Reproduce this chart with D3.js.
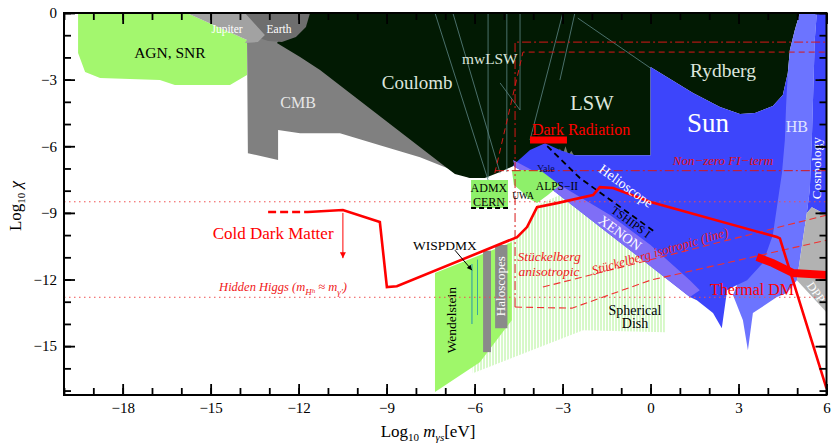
<!DOCTYPE html>
<html>
<head>
<meta charset="utf-8">
<script src="https://cdn.jsdelivr.net/npm/d3@7"></script>
<style>
  body { margin: 0; background: #fff; }
  svg { display: block; }
  text { font-family: "Liberation Serif", "DejaVu Serif", serif; }
</style>
</head>
<body>
<svg id="chart" width="831" height="446"></svg>
<script>
// axis ticks
const xMajor = [-18, -15, -12, -9, -6, -3, 0, 3, 6];
const yMajor = [0, -3, -6, -9, -12, -15];
const xMinor = d3.range(-20, 7);
const yMinor = d3.range(-17, 1);

// regions, as [log10 m, log10 chi]
const agnSnr = [[-19.52,0],[-19.52,-1.8],[-19.28,-2.66],[-18.77,-2.93],[-16.73,-3.02],[-16.22,-3.24],[-14.34,-3.24],[-13.76,-2.79],[-13.76,-1.22],[-15.81,0]];
const cmb = [[-13.76,-1.22],[-13.73,-6.31],[-12.70,-6.62],[-12.70,-5.27],[-11.95,-5.41],[-10.59,-5.41],[-9.23,-5.95],[-7.86,-6.49],[-6.94,-6.98],[-6.16,-7.43],[-5.82,-4.82],[-11.95,0],[-13.76,0]];
const jupiter = [[-15.81,0],[-13.83,0],[-13.15,-0.99],[-13.39,-1.31],[-13.83,-1.35],[-13.76,-1.22]];
const earth = [[-14.24,0],[-11.61,0],[-11.75,-0.63],[-12.09,-1.08],[-12.57,-1.31],[-13.04,-1.26],[-13.39,-1.1]];
const coulombLswRydberg = [[-11.68,0],[5.09,0],[4.92,-0.77],[4.75,-1.67],[4.68,-2.70],[4.51,-3.69],[4.17,-4.19],[3.56,-4.50],[3.05,-4.55],[2.37,-4.23],[1.45,-3.60],[0,-2.43],[0,-6.40],[-2.58,-6.40],[-4.62,-6.85],[-5.13,-7.16],[-5.65,-7.43],[-6.16,-7.43],[-6.67,-7.25],[-6.94,-6.98],[-11.27,-2.57],[-11.95,-1.98],[-12.74,-1.35],[-12.2,-0.54]];
const hb = [[5.09,0],[5.67,0],[5.60,-1.2],[5.50,-5.72],[5.43,-7.97],[5.33,-9.01],[5.09,-11.13],[4.99,-12.03],[4.65,-12.61],[4.31,-12.79],[3.49,-13.51],[3.32,-15.18],[3.15,-13.83],[2.81,-12.70],[3.5,-10.5],[4.3,-6],[4.68,-2.70],[4.75,-1.67],[4.92,-0.77]];
const cosmology = [[5.67,0],[6,0],[6,-9.1],[5.5,-8.75],[5.33,-9.01],[5.43,-7.97],[5.50,-5.72],[5.60,-1.2]];
const dpp = [[5.33,-9.01],[5.5,-8.75],[6,-9.1],[6,-13.47],[4.99,-12.03],[5.09,-11.13]];
const sun = [[-4.69,-6.85],[-4.11,-6.17],[-3.60,-5.86],[-3.09,-6.17],[-2.58,-6.40],[0,-6.40],[0,-2.43],[1.45,-3.60],[2.37,-4.23],[3.05,-4.55],[3.56,-4.50],[4.17,-4.19],[4.51,-3.69],[4.68,-2.70],[4.62,-4.23],[4.58,-5.72],[4.48,-7.21],[4.31,-8.74],[4.17,-10.0],[3.83,-11.26],[3.29,-12.03],[2.81,-12.34],[2.61,-12.48],[2.43,-14.19],[2.13,-13.51],[1.58,-12.93],[1.34,-12.79],[0,-11.40],[-1.73,-9.62],[-3.70,-7.60],[-4.62,-6.94]];
const xenon = [[-4.69,-6.62],[-3.09,-7.75],[-1.38,-9.10],[0,-10.45],[1.34,-12.03],[1.68,-12.48],[1.34,-12.79],[0,-11.40],[-1.73,-9.62],[-3.70,-7.60],[-4.62,-6.94]];
const admx = [[-6.12,-7.52],[-4.86,-7.52],[-4.86,-8.78],[-6.12,-8.78]];
const alps = [[-4.73,-7.07],[-3.77,-7.07],[-3.09,-7.75],[-3.50,-8.20],[-3.87,-8.56],[-4.18,-8.33],[-4.45,-7.97],[-4.66,-7.75]];
const hatchArea = [[-4.96,-10.45],[-4.55,-10.09],[-4.21,-9.55],[-3.87,-8.65],[-3.09,-8.20],[-1.73,-7.88],[-0.36,-8.2],[0.49,-8.65],[0.49,-14.37],[-2.30,-14.28],[-6.06,-16.22],[-6.16,-12.93]];
const haloGreen = [[-7.35,-11.71],[-4.96,-10.45],[-4.73,-10.32],[-4.73,-13.83],[-5.82,-15.72],[-7.35,-17.07]];
const haloGray = [[[-5.71,-10.7],[-5.44,-10.7],[-5.44,-15.27],[-5.71,-15.27]], [[-5.30,-10.45],[-4.88,-10.45],[-4.88,-14.19],[-5.30,-14.19]]];
const lswResonance = [[-3.25,-6.55],[-3.09,-6.1],[-3.0,-6.4],[-2.9,-6.0],[-2.8,-6.4],[-2.7,-6.2],[-2.58,-6.5]];

// thin boundaries inside the dark region
const lswLines = [
  [[-7.35,0],[-5.54,-7.52]],
  [[-6.74,0],[-5.13,-7.21]],
  [[-5.54,0],[-5.54,-7.43]],
  [[-4.90,0],[-4.90,-7.16]],
  [[-4.45,0],[-4.45,-4.37]],
  [[-2.99,0],[-4.11,-5.72]],
  [[-5.13,-3.15],[-4.45,-4.37]],
  [[-2.58,0],[-3.09,-3.02]],
  [[-2.48,-0.23],[0,-2.48]]
];

// red curves and theory lines
const cdmLine = [[-11.68,-8.96],[-10.49,-8.87],[-9.23,-9.41],[-8.99,-12.34],[-8.65,-12.30],[-4.55,-10.09],[-4.21,-9.64],[-3.87,-8.74],[-3.19,-8.56],[-1.96,-8.20],[-1.73,-7.84],[-1.28,-7.88],[0,-8.51],[4.31,-10.09],[4.41,-10.15],[5.88,-16.40],[6,-16.9]];
const cdmDashed = [[-13.04,-8.96],[-11.68,-8.96]];
const thermalDM = [[3.63,-10.99],[4.17,-11.26],[4.86,-11.71],[6,-11.80]];
const darkRadiation = [[-4.11,-5.72],[-2.85,-5.72]];
const hiddenHiggs = [-8.5, -12.8];
const fiTermBox = [[-4.62,-13.24],[-4.62,-1.31],[6,-1.31]];
const fiTermLow = [[-5.31,-7.1],[6,-7.1]];
const stueckTop = [[-5.31,-7.21],[-4.35,-1.76],[6,-1.76]];
const stueckAniso = [[-4.62,-13.24],[-2.68,-13.29],[0,-12.03],[6,-10.23]];
const stueckIso = [[-3.67,-12.34],[6,-9.10]];
const tships = [[-4.01,-5.36],[-2.41,-7.43],[0.15,-9.86]];
const admxDash = [[-6.12,-8.78],[-4.86,-8.78]];

const svg = d3.select('#chart');
const x = d3.scaleLinear().domain([-20, 6]).range([64, 826.5]);
const y = d3.scaleLinear().domain([0, -17.2]).range([13, 395]);

const closed = d3.line().x(d => x(d[0])).y(d => y(d[1])).curve(d3.curveLinearClosed);
const open = d3.line().x(d => x(d[0])).y(d => y(d[1]));

const defs = svg.append('defs');
defs.append('clipPath').attr('id', 'plot-clip')
  .append('rect').attr('x', 64).attr('y', 13).attr('width', 762.5).attr('height', 382);
const pat = defs.append('pattern').attr('id', 'hatch')
  .attr('patternUnits', 'userSpaceOnUse').attr('width', 3).attr('height', 10);
pat.append('line').attr('x1', 1).attr('x2', 1).attr('y1', 0).attr('y2', 10)
  .attr('stroke', '#a6f086').attr('stroke-width', 0.9);

const plot = svg.append('g').attr('clip-path', 'url(#plot-clip)');

function poly(data, fill) {
  return plot.append('path').attr('d', closed(data)).attr('fill', fill);
}
function curve(data, color, width, dash) {
  return plot.append('path').attr('d', open(data)).attr('fill', 'none')
    .attr('stroke', color).attr('stroke-width', width)
    .attr('stroke-dasharray', dash || null);
}

// haloscopes and dish
poly(hatchArea, 'url(#hatch)');
poly(haloGreen, '#9ff76a');
haloGray.forEach(d => poly(d, '#8a8a8a'));
curve([[-6.09,-11.3],[-6.09,-14.0]], '#3aa8a0', 1.2);
curve([[-5.9,-11.1],[-5.9,-13.6]], '#3aa8a0', 1);

// astrophysics and lab bounds
poly(cmb, '#808080');
poly(agnSnr, '#a3f76e');
poly(coulombLswRydberg, '#021a03');
lswLines.forEach(d => curve(d, '#5d8585', 0.8));
poly(lswResonance, '#707870');
poly(earth, '#6e6e6e');
poly(jupiter, '#a2a2a2');
poly(hb, '#6c74ff');
poly(cosmology, '#3d45fb');
poly(dpp, '#b2b2b2');
poly(sun, '#3d45fb');
poly(xenon, '#7f6ef6');
poly(admx, '#8ef06a');
poly(alps, '#8ef06a');

// theory lines
hiddenHiggs.forEach(v => curve([[-20, v], [6, v]], '#f05050', 1, '1.5,3.5'));
curve(fiTermBox, '#d81818', 1, '9,3,2,3');
curve(fiTermLow, '#d81818', 1, '9,3,2,3');
curve(stueckTop, '#d81818', 1, '6,4');
curve(stueckAniso, '#f03030', 1.1, '7,4');
curve(stueckIso, '#f03030', 1.1, '7,4');

// black dashed experiments
curve(tships, '#000', 1.8, '6,4');
curve(admxDash, '#000', 1.8, '5,3');

// red curves
curve(cdmDashed, '#f00', 2.6, '8,4');
curve(cdmLine, '#f00', 2.6);
curve(thermalDM, '#f00', 8);
curve(darkRadiation, '#f00', 7);

// arrows
defs.append('marker').attr('id', 'red-arrow').attr('viewBox', '0 0 10 10')
  .attr('refX', 10).attr('refY', 5).attr('markerWidth', 6).attr('markerHeight', 8)
  .attr('orient', 'auto').attr('markerUnits', 'userSpaceOnUse')
  .append('path').attr('d', 'M0,0 L10,5 L0,10 z').attr('fill', '#f00');
defs.append('marker').attr('id', 'black-arrow').attr('viewBox', '0 0 10 10')
  .attr('refX', 10).attr('refY', 5).attr('markerWidth', 7).attr('markerHeight', 5)
  .attr('orient', 'auto').attr('markerUnits', 'userSpaceOnUse')
  .append('path').attr('d', 'M0,0 L10,5 L0,10 z').attr('fill', '#000');
curve([[-10.49,-9.0],[-10.49,-11.04]], '#f00', 1).attr('marker-end', 'url(#red-arrow)');
curve([[-6.67,-10.68],[-6.09,-11.58]], '#000', 1).attr('marker-end', 'url(#black-arrow)');

// labels
function label(txt, lx, ly, o) {
  o = o || {};
  const t = plot.append('text')
    .attr('transform', `translate(${x(lx)},${y(ly)}) rotate(${o.rot || 0})`)
    .attr('text-anchor', o.anchor || 'middle')
    .attr('dominant-baseline', 'central')
    .attr('font-size', o.size || 14)
    .attr('fill', o.fill || '#000')
    .attr('font-style', o.italic ? 'italic' : null)
    .text(txt);
  return t;
}
label('AGN, SNR', -16.39, -1.76, {size: 15.5});
label('Jupiter', -14.44, -0.72, {size: 11.5, fill: '#fff'});
label('Earth', -12.67, -0.72, {size: 11.5, fill: '#fff'});
label('CMB', -12.02, -4.01, {size: 16, fill: '#e6e6e6'});
label('Coulomb', -7.96, -3.11, {size: 19, fill: '#dde6dd'});
label('mwLSW', -5.48, -2.07, {size: 15.4, fill: '#dde6dd'});
label('LSW', -2.0, -4.05, {size: 20.5, fill: '#dde6dd'});
label('Rydberg', 2.47, -2.61, {size: 19.5, fill: '#dde6dd'});
label('Sun', 1.96, -4.95, {size: 27, fill: '#fff'});
label('HB', 4.99, -5.09, {size: 16, fill: '#e0e4ff'});
label('Cosmology', 5.67, -6.98, {size: 13.5, fill: '#fff', rot: -90});
label('Dark Radiation', -2.37, -5.23, {size: 16, fill: '#f00'});
label('Non\u2212zero FI\u2212term', 2.47, -6.62, {size: 13, fill: '#e01010', italic: true});
label('Helioscope', -0.84, -7.79, {size: 14, fill: '#fff', rot: 36});
label('XENON', -1.04, -9.91, {size: 14, fill: '#fff', rot: 36});
label('TSHIPS I', -0.67, -9.41, {size: 11.5, rot: 36});
label('Yale', -3.57, -6.98, {size: 10, fill: '#0a0a50'});
label('ALPS\u2212II', -3.19, -7.79, {size: 11.5});
label('UWA', -4.35, -8.24, {size: 9.5});
label('ADMX', -5.51, -7.88, {size: 12});
label('CERN', -5.51, -8.51, {size: 12});
label('Cold Dark Matter', -12.87, -9.91, {size: 17, fill: '#f00'});
label('WISPDMX', -7.01, -10.45, {size: 13.5});
label('St\u00fcckelberg', -3.46, -10.95, {size: 13.5, fill: '#f02020', italic: true});
label('anisotropic', -3.46, -11.62, {size: 13.5, fill: '#f02020', italic: true});
label('St\u00fcckelberg isotropic (line)', 0.32, -10.72, {size: 13, fill: '#f02020', italic: true, rot: -16});
label('Wendelstein', -6.77, -13.83, {size: 13.5, rot: -90});
label('Haloscopes', -5.13, -12.30, {size: 13, fill: '#fff', rot: -90});
label('Spherical', -0.53, -13.38, {size: 14});
label('Dish', -0.53, -14.0, {size: 14});
label('Thermal DM', 3.46, -12.43, {size: 16, fill: '#f00'});
label('DPP', 5.64, -12.57, {size: 12, fill: '#fff', rot: 55});

const hh = label('', -12.53, -12.34, {size: 12.5, fill: '#f02020', italic: true});
hh.append('tspan').text('Hidden Higgs (m');
hh.append('tspan').attr('baseline-shift', 'sub').attr('font-size', 9).text('H');
hh.append('tspan').attr('baseline-shift', 'sub').attr('font-size', 7).text('h');
hh.append('tspan').text(' \u2248 m');
hh.append('tspan').attr('baseline-shift', 'sub').attr('font-size', 9).text('\u03b3\u2032');
hh.append('tspan').text(')');

// axes and frame
const axes = svg.append('g');
function addAxis(gen, tr, vals, size, fmt) {
  const g = axes.append('g').attr('transform', tr)
    .call(gen.tickValues(vals).tickSizeInner(size).tickSizeOuter(0).tickPadding(7).tickFormat(fmt));
  g.select('.domain').remove();
  g.selectAll('line').attr('stroke', '#000').attr('stroke-width', 1.8);
  g.selectAll('text').attr('font-size', 15).attr('font-family', '"Liberation Serif", serif').attr('fill', '#000');
  return g;
}
const fmt = d3.format('d');
addAxis(d3.axisBottom(x), `translate(0,${y(-17.2)})`, xMinor, -7, '');
addAxis(d3.axisBottom(x), `translate(0,${y(-17.2)})`, xMajor, -11, fmt);
addAxis(d3.axisTop(x), `translate(0,${y(0)})`, xMinor, -7, '');
addAxis(d3.axisTop(x), `translate(0,${y(0)})`, xMajor, -11, '');
addAxis(d3.axisLeft(y), `translate(${x(-20)},0)`, yMinor, -7, '');
addAxis(d3.axisLeft(y), `translate(${x(-20)},0)`, yMajor, -11, fmt);
addAxis(d3.axisRight(y), `translate(${x(6)},0)`, yMinor, -7, '');
addAxis(d3.axisRight(y), `translate(${x(6)},0)`, yMajor, -11, '');

axes.append('rect').attr('x', x(-20)).attr('y', y(0))
  .attr('width', x(6) - x(-20)).attr('height', y(-17.2) - y(0))
  .attr('fill', 'none').attr('stroke', '#000').attr('stroke-width', 2);

// axis titles
const xt = axes.append('text').attr('x', 428).attr('y', 437)
  .attr('text-anchor', 'middle').attr('font-size', 17);
xt.append('tspan').text('Log');
xt.append('tspan').attr('dy', 4).attr('font-size', 11).text('10');
xt.append('tspan').attr('dy', -4).attr('font-style', 'italic').text(' m');
xt.append('tspan').attr('dy', 4).attr('font-size', 11).attr('font-style', 'italic').text('\u03b3s');
xt.append('tspan').attr('dy', -4).text('[eV]');

const yt = axes.append('text').attr('transform', 'translate(21,206) rotate(-90)')
  .attr('text-anchor', 'middle').attr('font-size', 17);
yt.append('tspan').text('Log');
yt.append('tspan').attr('dy', 4).attr('font-size', 11).text('10');
yt.append('tspan').attr('dy', -4).attr('font-style', 'italic').text(' \u03c7');
</script>
</body>
</html>
